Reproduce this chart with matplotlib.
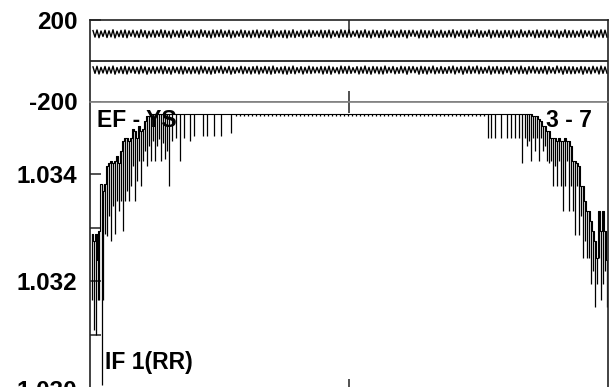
import numpy as np
import matplotlib
matplotlib.use("Agg")
import matplotlib.pyplot as plt

plt.rcParams['font.family'] = ['Liberation Sans', 'DejaVu Sans']
plt.rcParams['font.weight'] = 'bold'

# upper strip: two noisy traces, one sample every 2 units
band_a = [148, 116, 151, 113, 146, 119, 150, 114, 147, 117, 152, 112, 145, 118, 149, 115,
          151, 113, 147, 120, 150, 116, 146, 114, 152, 118, 148, 112, 145, 117, 150, 115,
          147, 119, 152, 114, 149, 116, 145, 112, 150, 118, 146, 115, 151, 113, 148, 120,
          145, 114, 150, 117, 147, 113, 152, 119, 148, 115, 146, 112, 151, 116, 149, 118,
          152, 115, 146, 118, 150, 112, 147, 116, 145, 120, 151, 114, 148, 117, 146, 113,
          149, 117, 151, 113, 146, 119, 150, 115, 148, 112, 152, 116, 145, 118, 147, 114,
          150, 112, 147, 116, 152, 114, 145, 119, 149, 113, 146, 117, 151, 115, 148, 120,
          146, 118, 150, 113, 148, 116, 151, 112, 147, 119, 145, 114, 152, 117, 149, 115,
          151, 116, 145, 120, 149, 113, 147, 117, 152, 115, 146, 112, 150, 118, 148, 114,
          147, 113, 152, 117, 146, 119, 150, 114, 145, 116, 151, 118, 148, 112, 149, 120,
          150, 119, 146, 112, 151, 116, 148, 113, 147, 118, 152, 114, 145, 117, 150, 115,
          145, 116, 149, 118, 152, 113, 146, 120, 150, 114, 147, 112, 151, 117, 148, 119,
          152, 114, 147, 116, 145, 119, 151, 112, 148, 117, 150, 115, 146, 113, 149, 118,
          148, 112, 150, 117, 146, 114, 152, 118, 145, 116, 149, 120, 147, 113, 151, 115,
          146, 117, 151, 113, 149, 119, 147, 115, 150, 112, 145, 118, 152, 114, 148, 116,
          149, 115, 145, 118, 151, 113, 148, 120, 146, 116, 150, 112, 147, 117, 152, 114,
          150, 116]
band_b = [-30, -62, -27, -65, -32, -60, -28, -64, -31, -61, -26, -66, -33, -60, -29, -63,
          -27, -65, -31, -59, -28, -62, -32, -64, -26, -60, -30, -66, -33, -61, -28, -63,
          -31, -60, -26, -64, -29, -62, -33, -66, -28, -59, -32, -63, -27, -65, -30, -61,
          -33, -64, -28, -61, -31, -65, -26, -60, -30, -63, -32, -66, -27, -62, -29, -59,
          -26, -63, -32, -60, -28, -66, -31, -62, -33, -59, -27, -64, -30, -61, -32, -65,
          -29, -61, -27, -65, -32, -60, -28, -63, -30, -66, -26, -62, -33, -60, -31, -64,
          -28, -66, -31, -62, -26, -64, -33, -59, -29, -65, -32, -61, -27, -63, -30, -60,
          -32, -60, -28, -65, -30, -62, -27, -66, -31, -59, -33, -64, -26, -61, -29, -63,
          -27, -62, -33, -59, -29, -65, -31, -61, -26, -63, -32, -66, -28, -60, -30, -64,
          -31, -65, -26, -61, -32, -59, -28, -64, -33, -62, -27, -60, -30, -66, -29, -59,
          -28, -59, -32, -66, -27, -62, -30, -65, -31, -60, -26, -64, -33, -61, -28, -63,
          -33, -62, -29, -60, -26, -65, -32, -59, -28, -66, -31, -61, -27, -63, -30, -60,
          -26, -64, -31, -62, -33, -60, -27, -66, -30, -61, -28, -63, -32, -65, -29, -59,
          -30, -66, -28, -59, -31, -64, -26, -62, -33, -65, -29, -60, -27, -61, -32, -63,
          -32, -61, -27, -65, -29, -60, -33, -63, -26, -59, -31, -66, -28, -62, -30, -64,
          -29, -63, -33, -60, -28, -66, -30, -61, -32, -64, -27, -59, -31, -65, -26, -62,
          -30, -61]

# lower panel: EF - YS trace as min/max per column
ef_x = [2, 4, 6, 7.5, 9, 11.5, 13, 15, 17, 19, 21, 23, 25, 27, 29, 31, 33, 35, 37, 39,
        41, 43, 45, 47, 49, 51, 53, 55, 57, 59, 61, 63, 65, 67, 69, 71, 73, 75, 77, 79,
        82, 86, 90, 94, 100, 104, 113, 117, 124, 131, 141,
        146, 150, 154, 158, 162, 166, 170, 174, 178, 182, 186, 190, 194, 198, 202, 206,
        210, 214, 218, 222, 226, 230, 234, 238, 242, 246, 250, 254, 258, 262, 266, 270,
        274, 278, 282, 286, 290, 294, 298, 302, 306, 310, 314, 318, 322, 326, 330, 334,
        338, 342, 346, 350, 354, 358, 362, 366, 370, 374, 378, 382, 386, 390, 394,
        398, 401, 405, 411, 417, 421, 425, 429, 432, 435, 437, 439, 441, 443, 445, 447,
        449, 451, 453, 455, 457, 459, 461, 463, 465, 467, 469, 471, 473, 475, 477, 479,
        481, 483, 485, 487, 489, 491, 493, 495, 497, 499, 501, 503, 505, 507, 509, 511,
        513, 515, 517]
ef_hi = [1.03289, 1.03276, 1.03289, 1.03239, 1.03294, 1.03381, 1.03369, 1.03381, 1.03415, 1.03420,
         1.03424, 1.03420, 1.03424, 1.03433, 1.03420, 1.03443, 1.03461, 1.03467, 1.03467, 1.03461,
         1.03467, 1.03483, 1.03480, 1.03467, 1.03489, 1.03480, 1.03483, 1.03498, 1.03507, 1.03507,
         1.03511, 1.03511, 1.03511, 1.03511, 1.03511, 1.03511, 1.03511, 1.03511, 1.03511, 1.03511,
         1.03511, 1.03511, 1.03511, 1.03511, 1.03511, 1.03511, 1.03511, 1.03511, 1.03511, 1.03511,
         1.03511,
         1.03511, 1.03511, 1.03511, 1.03511, 1.03511, 1.03511, 1.03511, 1.03511, 1.03511, 1.03511,
         1.03511, 1.03511, 1.03511, 1.03511, 1.03511, 1.03511, 1.03511, 1.03511, 1.03511, 1.03511,
         1.03511, 1.03511, 1.03511, 1.03511, 1.03511, 1.03511, 1.03511, 1.03511, 1.03511, 1.03511,
         1.03511, 1.03511, 1.03511, 1.03511, 1.03511, 1.03511, 1.03511, 1.03511, 1.03511, 1.03511,
         1.03511, 1.03511, 1.03511, 1.03511, 1.03511, 1.03511, 1.03511, 1.03511, 1.03511, 1.03511,
         1.03511, 1.03511, 1.03511, 1.03511, 1.03511, 1.03511, 1.03511, 1.03511, 1.03511, 1.03511,
         1.03511, 1.03511, 1.03511,
         1.03511, 1.03511, 1.03511, 1.03511, 1.03511, 1.03511, 1.03511, 1.03511, 1.03511, 1.03511,
         1.03511, 1.03511, 1.03511, 1.03507, 1.03507, 1.03507, 1.03502, 1.03498, 1.03489, 1.03489,
         1.03480, 1.03480, 1.03467, 1.03467, 1.03467, 1.03461, 1.03467, 1.03461, 1.03461, 1.03467,
         1.03461, 1.03461, 1.03452, 1.03424, 1.03424, 1.03420, 1.03415, 1.03378, 1.03378, 1.03350,
         1.03331, 1.03331, 1.03313, 1.03294, 1.03276, 1.03243, 1.03331, 1.03294, 1.03331, 1.03294,
         1.03239]
ef_lo = [1.03165, 1.03109, 1.03100, 1.03165, 1.03165, 1.03007, 1.03165, 1.03289, 1.03285, 1.03322,
         1.03276, 1.03341, 1.03289, 1.03350, 1.03331, 1.03350, 1.03294, 1.03350, 1.03369, 1.03350,
         1.03378, 1.03415, 1.03350, 1.03387, 1.03424, 1.03378, 1.03424, 1.03443, 1.03415, 1.03452,
         1.03424, 1.03461, 1.03424, 1.03452, 1.03465, 1.03424, 1.03457, 1.03428, 1.03443, 1.03378,
         1.03461, 1.03467, 1.03424, 1.03467, 1.03461, 1.03470, 1.03470, 1.03470, 1.03470, 1.03470,
         1.03476,
         1.03508, 1.03507, 1.03508, 1.03507, 1.03508, 1.03507, 1.03508, 1.03507, 1.03508, 1.03507,
         1.03508, 1.03507, 1.03508, 1.03507, 1.03508, 1.03507, 1.03508, 1.03507, 1.03508, 1.03507,
         1.03508, 1.03507, 1.03508, 1.03507, 1.03508, 1.03507, 1.03508, 1.03507, 1.03508, 1.03507,
         1.03508, 1.03507, 1.03508, 1.03507, 1.03508, 1.03507, 1.03508, 1.03507, 1.03508, 1.03507,
         1.03508, 1.03507, 1.03508, 1.03507, 1.03508, 1.03507, 1.03508, 1.03507, 1.03508, 1.03507,
         1.03508, 1.03507, 1.03508, 1.03507, 1.03508, 1.03507, 1.03508, 1.03507, 1.03508, 1.03507,
         1.03508, 1.03507, 1.03508,
         1.03467, 1.03467, 1.03467, 1.03467, 1.03467, 1.03467, 1.03467, 1.03467, 1.03420, 1.03467,
         1.03452, 1.03461, 1.03424, 1.03467, 1.03443, 1.03467, 1.03424, 1.03467, 1.03443, 1.03452,
         1.03424, 1.03420, 1.03424, 1.03378, 1.03415, 1.03378, 1.03424, 1.03378, 1.03331, 1.03378,
         1.03424, 1.03331, 1.03378, 1.03331, 1.03287, 1.03378, 1.03287, 1.03322, 1.03243, 1.03276,
         1.03243, 1.03243, 1.03196, 1.03220, 1.03152, 1.03196, 1.03243, 1.03165, 1.03196, 1.03220,
         1.03152]

top_ticks = [-200, 200]
top_ticklabels = ['-200', '200']
bot_ticks = [1.030, 1.032, 1.034]
bot_ticklabels = ['1.030', '1.032', '1.034']
bot_minor = [1.031, 1.033]

W, H = 609, 387
def rect(l, t, r, b):
    return [l / W, 1 - b / H, (r - l) / W, (b - t) / H]

fig = plt.figure(figsize=(W / 100, H / 100), dpi=100)
ax_top = fig.add_axes(rect(90, 20, 608, 101.5))
ax_bot = fig.add_axes(rect(90, 101.5, 608, 390))

ax_top.plot(3 + 2 * np.arange(len(band_a)), band_a, color='black', lw=1.0)
ax_top.plot(3 + 2 * np.arange(len(band_b)), band_b, color='black', lw=1.0)
ax_top.axhline(0, color='#222222', lw=1.3)
ax_top.set_xlim(0, 518)
ax_top.set_ylim(-200, 200)
ax_top.set_yticks(top_ticks)
ax_top.set_yticklabels(top_ticklabels)
ax_top.set_xticks([259])
ax_top.set_xticklabels([])

ax_bot.vlines(ef_x, ef_lo, ef_hi, color='black', lw=0.9)
ax_bot.plot(ef_x, ef_hi, color='black', lw=0.8, drawstyle='steps-mid')
ax_bot.set_xlim(0, 518)
ax_bot.set_ylim(1.02998, 1.035346)
ax_bot.set_yticks(bot_ticks)
ax_bot.set_yticklabels(bot_ticklabels)
ax_bot.set_yticks(bot_minor, minor=True)
ax_bot.set_xticks([259])
ax_bot.set_xticklabels([])

for ax in (ax_top, ax_bot):
    ax.tick_params(axis='both', which='both', direction='in', length=8, width=1.1,
                   top=True, right=False, labelsize=17.5, pad=9, color='#222222')
    ax.tick_params(axis='y', which='minor', labelleft=False)
    for s in ax.spines.values():
        s.set_linewidth(1.2)
        s.set_color('#222222')
    for lab in ax.get_yticklabels():
        lab.set_fontweight('bold')

ax_top.spines['bottom'].set_color('#808080')
ax_bot.spines['top'].set_color('#808080')

ax_bot.text(0.013, 0.934, 'EF - YS', transform=ax_bot.transAxes, fontsize=16.5,
            fontweight='bold', ha='left', va='center')
ax_bot.text(0.969, 0.934, '3 - 7', transform=ax_bot.transAxes, fontsize=16.5,
            fontweight='bold', ha='right', va='center')
ax_bot.text(0.029, 0.097, 'IF 1(RR)', transform=ax_bot.transAxes, fontsize=16.5,
            fontweight='bold', ha='left', va='center')

fig.savefig('out.png', dpi=100)
